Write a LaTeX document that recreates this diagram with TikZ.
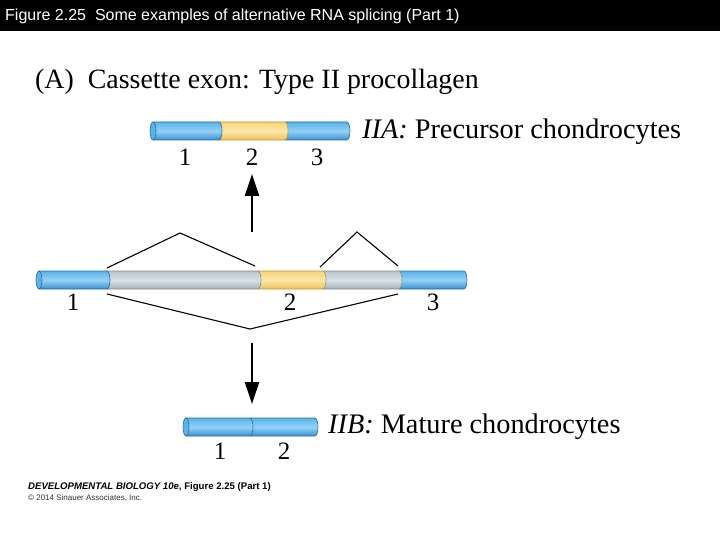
\documentclass[tikz,border=0pt]{standalone}
\usepackage{fontspec}
\setmainfont{Liberation Serif}
\newfontfamily\arialf{Liberation Sans}
\usetikzlibrary{arrows.meta}
\definecolor{tbmid}{HTML}{5AB2E8}
\definecolor{tblt}{HTML}{93D2F6}
\definecolor{tbdk}{HTML}{3A8FD0}
\definecolor{tbedge}{HTML}{2A6E9E}
\definecolor{tymid}{HTML}{F6D47A}
\definecolor{tylt}{HTML}{FCE6A8}
\definecolor{tydk}{HTML}{EEC25C}
\definecolor{tyedge}{HTML}{B89440}
\definecolor{tgmid}{HTML}{B9C5CD}
\definecolor{tglt}{HTML}{D8E0E5}
\definecolor{tgdk}{HTML}{A4B1BA}
\definecolor{tgedge}{HTML}{7E8C95}
\newcommand\tubesegm[4]{%
  \path[#4] (#1,#3-9) -- (#2,#3-9) arc[start angle=90,end angle=-90,x radius=3pt,y radius=9pt] -- (#1,#3+9) -- cycle;}
\newcommand\tubecapm[2]{%
  \path[capend] (#1,#2) ellipse[x radius=3pt,y radius=9pt];}
\tikzset{
  blueseg/.style={draw=tbedge,line width=0.6pt,top color=tbmid,bottom color=tbdk,middle color=tblt},
  yelseg/.style={draw=tyedge,line width=0.6pt,top color=tymid,bottom color=tydk,middle color=tylt},
  grayseg/.style={draw=tgedge,line width=0.6pt,top color=tgmid,bottom color=tgdk,middle color=tglt},
  capend/.style={draw=tbedge,line width=0.6pt,fill=tbmid},
  numlbl/.style={font=\fontsize{25}{27}\selectfont,inner sep=0pt},
  biglbl/.style={font=\fontsize{28.3}{30}\selectfont,inner sep=0pt,anchor=west},
  splice/.style={line width=1.1pt,black},
  bigarrow/.style={line width=2.6pt,-{Triangle[length=22pt,width=14pt]}},
}
\begin{document}
\begin{tikzpicture}[x=1pt,y=-1pt]
\useasboundingbox (0,0) rectangle (720,540);
\fill[white] (0,0) rectangle (720,540);
\fill[black] (0,0) rectangle (720,31);
\node[anchor=west,inner sep=0pt,text=white,font=\arialf\fontsize{16}{18}\selectfont] (title) at (5,16) {Figure 2.25\ \ Some examples of alternative RNA splicing (Part 1)};
\node[anchor=base west,inner sep=0pt,font=\fontsize{27.9}{30}\selectfont] (head) at (35,89) {(A)\ \ Cassette exon: Type II procollagen};
% top tube
\tubesegm{285}{347}{131}{blueseg}
\tubesegm{219}{285}{131}{yelseg}
\tubesegm{153}{219}{131}{blueseg}
\tubecapm{153}{131}
\node[numlbl] (t1) at (185,157) {1};
\node[numlbl] (t2) at (252,157) {2};
\node[numlbl] (t3) at (317,157) {3};
\node[biglbl] (iia) at (362,132) {\textit{IIA:} Precursor chondrocytes};
% middle tube
\tubesegm{399}{464}{280}{blueseg}
\tubesegm{323}{399}{280}{grayseg}
\tubesegm{258}{323}{280}{yelseg}
\tubesegm{107}{258}{280}{grayseg}
\tubesegm{39}{107}{280}{blueseg}
\tubecapm{39}{280}
\node[numlbl] (m1) at (73,302) {1};
\node[numlbl] (m2) at (290,302) {2};
\node[numlbl] (m3) at (433,302) {3};
% splice lines
\coordinate (a1) at (107,268);
\coordinate (a2) at (180,233);
\coordinate (a3) at (255,266);
\coordinate (b1) at (320,267);
\coordinate (b2) at (357,232);
\coordinate (b3) at (398,266);
\coordinate (c1) at (107,294);
\coordinate (c2) at (250,329);
\coordinate (c3) at (398,294);
\draw[splice] (a1) -- (a2) -- (a3);
\draw[splice] (b1) -- (b2) -- (b3);
\draw[splice] (c1) -- (c2) -- (c3);
% arrows
\coordinate (u0) at (252,232);
\coordinate (u1) at (252,174);
\coordinate (d0) at (252,343);
\coordinate (d1) at (252,404);
\draw[bigarrow] (u0) -- (u1);
\draw[bigarrow] (d0) -- (d1);
% bottom tube
\tubesegm{250}{315}{427}{blueseg}
\tubesegm{186}{250}{427}{blueseg}
\tubecapm{186}{427}
\node[numlbl] (b1l) at (220,451) {1};
\node[numlbl] (b2l) at (284,451) {2};
\node[biglbl] (iib) at (328,427) {\textit{IIB:} Mature chondrocytes};
% footer
\node[anchor=base west,inner sep=0pt,font=\arialf\bfseries\fontsize{9.6}{11}\selectfont] (foot1) at (28,489) {\textit{DEVELOPMENTAL BIOLOGY 10e}, Figure 2.25 (Part 1)};
\node[anchor=base west,inner sep=0pt,font=\arialf\fontsize{8}{9}\selectfont,text=black!80] (foot2) at (28,500) {\textcopyright{} 2014 Sinauer Associates, Inc.};
\end{tikzpicture}
\end{document}
